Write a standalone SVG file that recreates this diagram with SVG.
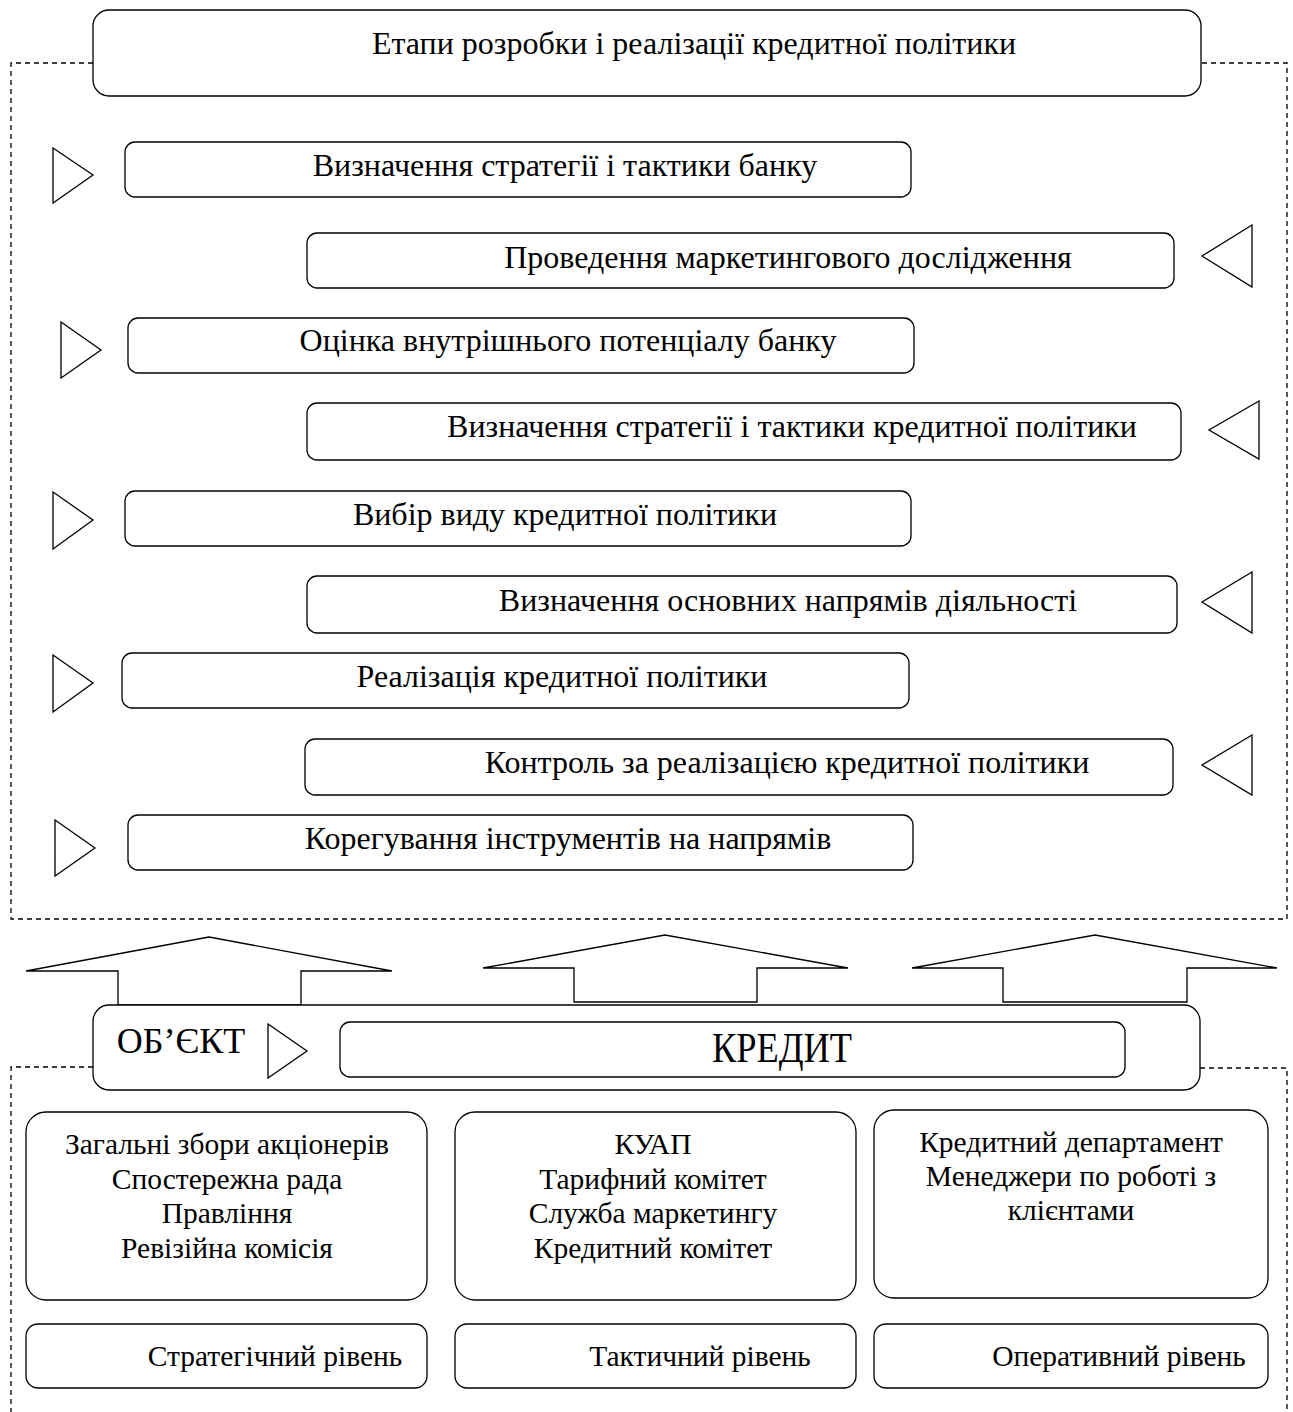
<svg xmlns="http://www.w3.org/2000/svg" width="1293" height="1412" viewBox="0 0 1293 1412">
<style>
.box{fill:#fff;stroke:#000;stroke-width:1.3}
.tri{fill:#fff;stroke:#000;stroke-width:1.3}
.dash{fill:none;stroke:#000;stroke-width:1.3;stroke-dasharray:5,4}
.t{font-family:"Liberation Serif","Times New Roman",serif;font-size:32px;fill:#000;text-anchor:middle}
.s{font-family:"Liberation Serif","Times New Roman",serif;font-size:29.5px;fill:#000;text-anchor:middle}
</style>
<rect width="1293" height="1412" fill="#fff"/>
<g id="frames">
<path class="dash" d="M93,63 H11 V919 H1287 V63 H1201"/>
<path class="dash" d="M93,1067 H11 V1412 M1200,1068 H1287 V1412"/>
</g>
<g id="title"><rect class="box" x="93" y="10" width="1108" height="86" rx="16"/><text class="t" x="694" y="54">Етапи розробки і реалізації кредитної політики</text></g>
<g id="step1"><polygon class="tri" points="53,148 93,175 53,203"/><rect class="box" x="125" y="142" width="786" height="55" rx="10"/><text class="t" x="565" y="176">Визначення стратегії і тактики банку</text></g>
<g id="step2"><polygon class="tri" points="1252,225 1202,256 1252,287"/><rect class="box" x="307" y="233" width="867" height="55" rx="10"/><text class="t" x="788" y="268">Проведення маркетингового дослідження</text></g>
<g id="step3"><polygon class="tri" points="61,322 101,350 61,378"/><rect class="box" x="128" y="318" width="786" height="55" rx="10"/><text class="t" x="568" y="351">Оцінка внутрішнього потенціалу банку</text></g>
<g id="step4"><polygon class="tri" points="1259,401 1209,430 1259,459"/><rect class="box" x="307" y="403" width="874" height="57" rx="10"/><text class="t" x="792" y="437">Визначення стратегії і тактики кредитної політики</text></g>
<g id="step5"><polygon class="tri" points="53,492 93,520 53,549"/><rect class="box" x="125" y="491" width="786" height="55" rx="10"/><text class="t" x="565" y="525">Вибір виду кредитної політики</text></g>
<g id="step6"><polygon class="tri" points="1252,572 1202,602 1252,633"/><rect class="box" x="307" y="576" width="870" height="57" rx="10"/><text class="t" x="788" y="611">Визначення основних напрямів діяльності</text></g>
<g id="step7"><polygon class="tri" points="53,655 93,683 53,712"/><rect class="box" x="122" y="653" width="787" height="55" rx="10"/><text class="t" x="562" y="687">Реалізація кредитної політики</text></g>
<g id="step8"><polygon class="tri" points="1252,735 1202,765 1252,795"/><rect class="box" x="305" y="739" width="868" height="56" rx="10"/><text class="t" x="787" y="773">Контроль за реалізацією кредитної політики</text></g>
<g id="step9"><polygon class="tri" points="55,820 95,848 55,876"/><rect class="box" x="128" y="815" width="785" height="55" rx="10"/><text class="t" x="568" y="849">Корегування інструментів на напрямів</text></g>
<g id="connectors">
<polygon class="tri" points="118,1005 118,971 26,971 209,937 392,971 301,971 301,1005"/>
<polygon class="tri" points="574,1002 574,968 483,968 665,935 848,968 757,968 757,1002"/>
<polygon class="tri" points="1003,1002 1003,968 912,968 1095,935 1277,968 1187,968 1187,1002"/>
</g>
<g id="object"><rect class="box" x="93" y="1005" width="1107" height="85" rx="16"/><text x="181" y="1053" style="font-family:'Liberation Serif',serif;font-size:36px;text-anchor:middle">ОБ’ЄКТ</text><polygon class="tri" points="268,1024 307,1051 268,1078"/></g>
<g id="credit"><rect class="box" x="340" y="1022" width="785" height="55" rx="10"/><text x="712" y="1062" textLength="140" lengthAdjust="spacingAndGlyphs" style="font-family:'Liberation Serif',serif;font-size:42px">КРЕДИТ</text></g>
<g id="orgA"><rect class="box" x="26" y="1112" width="401" height="188" rx="20"/><text class="s" x="227" y="1154">Загальні збори акціонерів</text><text class="s" x="227" y="1189">Спостережна рада</text><text class="s" x="227" y="1223">Правління</text><text class="s" x="227" y="1258">Ревізійна комісія</text></g>
<g id="orgB"><rect class="box" x="455" y="1112" width="401" height="188" rx="20"/><text class="s" x="653" y="1154">КУАП</text><text class="s" x="653" y="1189">Тарифний комітет</text><text class="s" x="653" y="1223">Служба маркетингу</text><text class="s" x="653" y="1258">Кредитний комітет</text></g>
<g id="orgC"><rect class="box" x="874" y="1110" width="394" height="188" rx="20"/><text class="s" x="1071" y="1152">Кредитний департамент</text><text class="s" x="1071" y="1186">Менеджери по роботі з</text><text class="s" x="1071" y="1220">клієнтами</text></g>
<g id="levelA"><rect class="box" x="26" y="1324" width="401" height="64" rx="12"/><text class="s" x="275" y="1366">Стратегічний рівень</text></g>
<g id="levelB"><rect class="box" x="455" y="1324" width="401" height="64" rx="12"/><text class="s" x="700" y="1366">Тактичний рівень</text></g>
<g id="levelC"><rect class="box" x="874" y="1324" width="394" height="64" rx="12"/><text class="s" x="1119" y="1366">Оперативний рівень</text></g>
</svg>
